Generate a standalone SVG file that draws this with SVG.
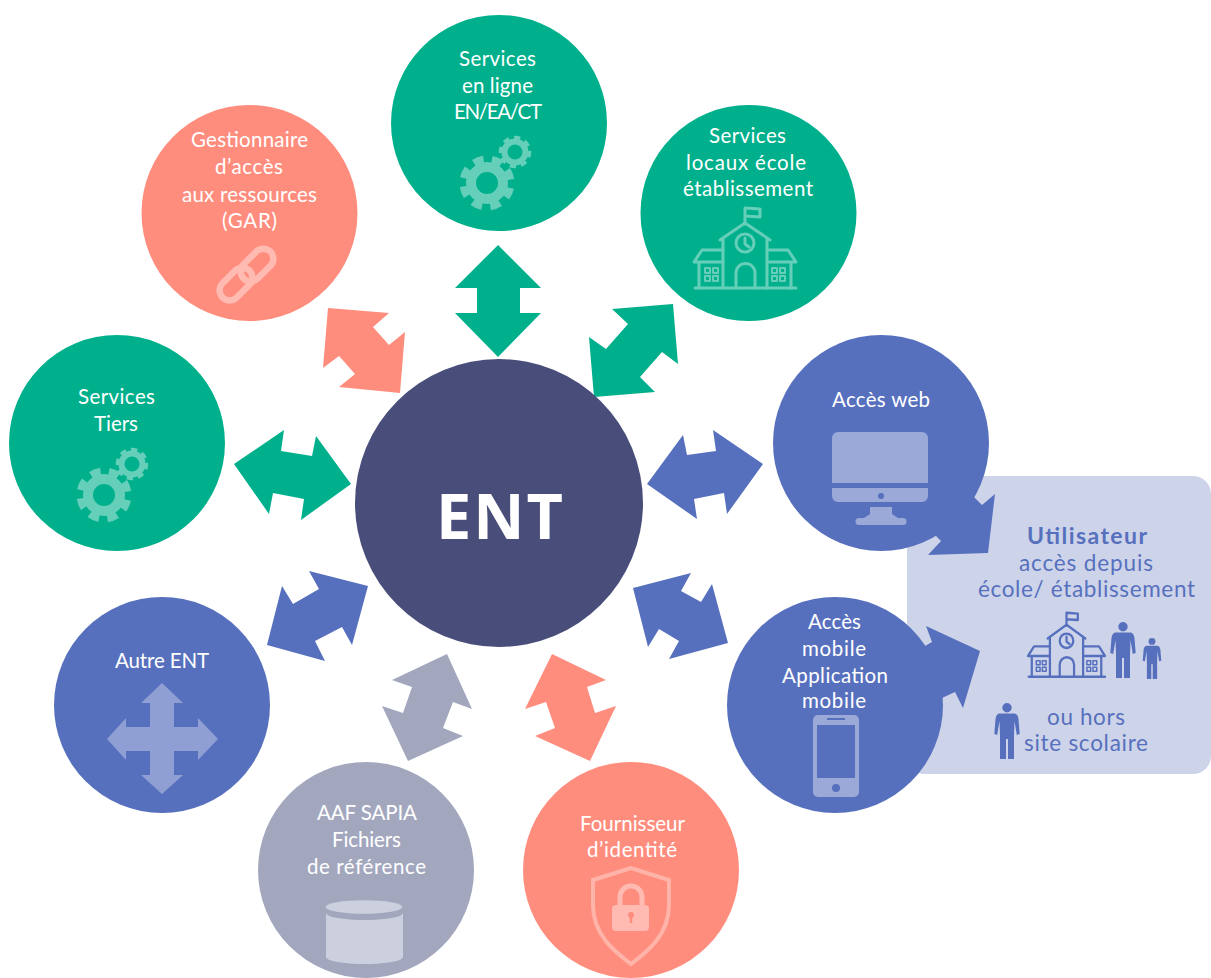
<svg xmlns="http://www.w3.org/2000/svg" width="1211" height="978" viewBox="0 0 1211 978">
<style>
text{font-family:"Lato","Open Sans","Liberation Sans",sans-serif;font-size:20.5px;fill:#fff}
.u{fill:#5770BE;font-size:22.5px}
.g{fill:#00B08C}.s{fill:#FF8D7E}.b{fill:#5770BE}.a{fill:#A3A7BE}.d{fill:#484D7A}
</style>
<defs>
<g id="gears" fill="none" stroke="#66CFBA">
<circle cx="487" cy="183" r="16" stroke-width="10"/>
<circle cx="487" cy="183" r="23.500" stroke-width="8" pathLength="80" stroke-dasharray="5.500 4.500" transform="rotate(12 487 183)"/>
<circle cx="515" cy="152" r="10.500" stroke-width="6"/>
<circle cx="515" cy="152" r="14" stroke-width="4.500" pathLength="80" stroke-dasharray="5.500 4.500" transform="rotate(-4 515 152)"/>
</g>
<g id="school" fill="none" stroke-width="3" stroke-linejoin="round" stroke-linecap="round">
<path d="M695,288H796M745,224V208L760,209V217L745,216"/>
<path d="M720,240L745,223L770,240M723,288V238M767,288V238"/>
<circle cx="745" cy="243" r="9"/><path d="M745,238V244L749,247"/>
<path d="M736,288V273A9.500,9.500 0 0 1 755,273V288"/>
<path d="M723,250H702L694,262H723M767,250H788L796,262H767M699,262V288M791,262V288"/>
<path stroke-width="2" d="M705,268h5v5h-5zM713,268h5v5h-5zM705,276h5v5h-5zM713,276h5v5h-5zM772,268h5v5h-5zM780,268h5v5h-5zM772,276h5v5h-5zM780,276h5v5h-5z"/>
</g>
<g id="person">
<circle cx="0" cy="4.700" r="4.700"/>
<path d="M-7,10.500H7C10,10.500 11,13 11.500,16L12.700,31L9.800,32L7.500,18L7,33V56H1V36H-1V56H-7V33L-7.500,18L-9.800,32L-12.700,31L-11.500,16C-11,13 -10,10.500 -7,10.500Z"/>
</g>
</defs>
<rect id="user-bg" x="907" y="476" width="304" height="298" rx="18" fill="#CDD4E9"/>
<g id="connectors">
<polygon class="g" points="498,245 541,288 520,288 520,313 541,313 498,357 455,313 477,313 477,288 455,288"/>
<polygon class="g" points="612,309 673,304 678,364 662,352 640,377 655,392 594,397 589,337 606,349 628,324"/>
<polygon class="b" points="647,484 683,435 687,455 716,451 713,430 763,464 727,514 724,493 694,499 697,519"/>
<polygon class="b" points="633,588 691,573 681,591 701,602 712,584 728,643 669,659 679,641 659,629 648,647"/>
<polygon class="s" points="552,654 606,680 587,687 595,713 616,706 590,761 535,736 555,728 546,702 525,709"/>
<polygon class="a" points="447,654 472,709 453,702 443,728 463,736 408,761 382,706 403,713 412,687 392,680"/>
<polygon class="b" points="309,571 368,586 352,645 342,627 315,641 325,661 267,645 282,586 293,604 319,589"/>
<polygon class="g" points="234,464 284,430 281,451 312,456 316,436 351,484 301,520 304,499 273,493 269,514"/>
<polygon class="s" points="328,308 389,313 373,327 389,345 405,332 400,393 339,387 355,374 339,356 323,368"/>
<polygon class="b" points="995,494 988,553 928,555 941,541 920,520 960,490 974,497 982,505"/>
<polygon class="b" points="926,626 932,642 925,646 915,690 942,698 955,692 963,708 980,651"/>
</g>
<g id="node-ent"><circle class="d" cx="499" cy="503" r="144"/><text x="436" y="539" textLength="127" style="font-family:'Open Sans','Lato',sans-serif;font-size:63px;font-weight:700">ENT</text></g>
<g id="node-services-ligne"><circle class="g" cx="499" cy="123" r="108"/>
<text x="459" y="66" textLength="77">Services</text><text x="462" y="93" textLength="71">en ligne</text><text x="454" y="119" textLength="88">EN/EA/CT</text>
<use href="#gears"/></g>
<g id="node-services-locaux"><circle class="g" cx="748.500" cy="213" r="108"/>
<text x="709" y="143" textLength="77">Services</text><text x="686" y="170" textLength="120">locaux école</text><text x="683" y="196" textLength="130">établissement</text>
<use href="#school" stroke="#66CFBA"/></g>
<g id="node-gar"><circle class="s" cx="249.500" cy="213" r="108"/>
<text x="191" y="147" textLength="117">Gestionnaire</text><text x="215" y="174" textLength="68">d’accès</text><text x="182" y="202" textLength="135">aux ressources</text><text x="222" y="228" textLength="55">(GAR)</text>
<g fill="none" stroke="#FFBBB2" stroke-width="6.500"><rect x="238" y="255" width="38" height="20" rx="10" transform="rotate(-45 257 265)"/><rect x="217" y="274" width="38" height="20" rx="10" transform="rotate(-45 236 284)"/></g></g>
<g id="node-tiers"><circle class="g" cx="117" cy="443" r="108"/>
<text x="78" y="404" textLength="77">Services</text><text x="94" y="431" textLength="44">Tiers</text>
<use href="#gears" transform="translate(-383 312)"/></g>
<g id="node-web"><circle class="b" cx="881" cy="443" r="108"/>
<text x="832" y="407" textLength="98">Accès web</text>
<g fill="#9AA9D8"><path d="M838,432H922A6,6 0 0 1 928,438V483H832V438A6,6 0 0 1 838,432Z"/><path d="M832,488H928V496A6,6 0 0 1 922,502H838A6,6 0 0 1 832,496Z"/><path d="M870,507H892V514L898,518H903A3.500,3.500 0 0 1 903,525H859A3.500,3.500 0 0 1 859,518H864L870,514Z"/></g><circle cx="881" cy="496" r="3" fill="#5770BE"/></g>
<g id="node-mobile"><circle class="b" cx="835" cy="705" r="108"/>
<text x="808" y="629" textLength="53">Accès</text><text x="802" y="656" textLength="64">mobile</text><text x="782" y="683" textLength="106">Application</text><text x="802" y="708" textLength="64">mobile</text>
<rect x="813" y="715" width="46" height="82" rx="5" fill="#9AA9D8"/><rect x="817" y="725" width="38" height="53" fill="#5770BE"/><path d="M827,719H845" stroke="#5770BE" stroke-width="2"/><circle cx="836" cy="788" r="4" fill="#5770BE"/></g>
<g id="node-autre"><circle class="b" cx="162" cy="705" r="108"/>
<text x="115" y="668" textLength="94">Autre ENT</text>
<polygon fill="#8F9FD3" points="162,683 183,703 174,703 174,727 198,727 198,718 218,739 198,760 198,751 174,751 174,775 183,775 162,794 141,775 150,775 150,751 126,751 126,760 107,739 126,718 126,727 150,727 150,703 141,703"/></g>
<g id="node-aaf"><circle class="a" cx="366" cy="870" r="108"/>
<text x="317" y="820" textLength="100">AAF SAPIA</text><text x="332" y="847" textLength="69">Fichiers</text><text x="307" y="874" textLength="119">de référence</text>
<g fill="#CCCFDE"><ellipse cx="364" cy="907" rx="38.500" ry="6.700"/><path d="M326,913A38.500,7 0 0 0 403,913V957A38.500,7 0 0 1 326,957Z"/></g></g>
<g id="node-fournisseur"><circle class="s" cx="631" cy="870" r="108"/>
<text x="580" y="831" textLength="105">Fournisseur</text><text x="587" y="857" textLength="90">d’identité</text>
<path d="M631,868L593,880V905C593,935 615,952 631,964C647,952 669,935 669,905V880Z" fill="none" stroke="#FFB4AA" stroke-width="4"/>
<path d="M620,906V897A11,11 0 0 1 642,897V906" fill="none" stroke="#FFBBB2" stroke-width="5"/>
<rect x="612" y="905" width="37" height="26" rx="4" fill="#FFBBB2"/><circle cx="631" cy="915" r="3" fill="#FF8D7E"/><path d="M631,915V923" stroke="#FF8D7E" stroke-width="2.500"/></g>
<g id="node-utilisateur">
<text class="u" x="1027" y="544" textLength="120" style="font-weight:700;font-size:23px">Utilisateur</text>
<text class="u" x="1019" y="571" textLength="134">accès depuis</text><text class="u" x="978" y="597" textLength="217">école/ établissement</text>
<text class="u" x="1047" y="725" textLength="78">ou hors</text><text class="u" x="1024" y="751" textLength="124">site scolaire</text>
<use href="#school" stroke="#5770BE" transform="translate(1028 612) scale(.755 .8) translate(-694 -207)"/>
<use href="#person" fill="#5770BE" transform="translate(1123 622)"/>
<use href="#person" fill="#5770BE" transform="translate(1152 638) scale(.73)"/>
<use href="#person" fill="#5770BE" transform="translate(1007 703)"/>
</g>
</svg>
